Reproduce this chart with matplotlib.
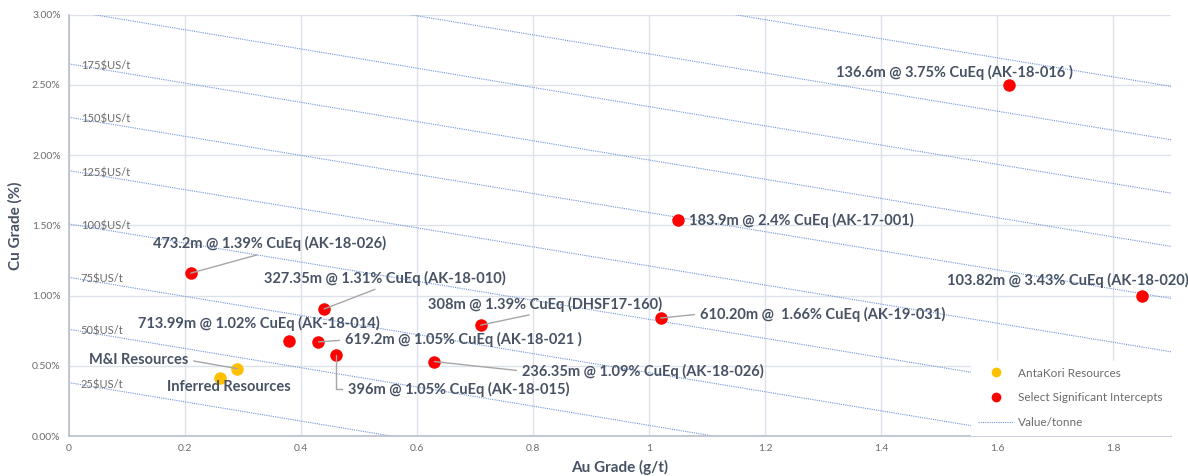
import numpy as np
import matplotlib
matplotlib.use("Agg")
import matplotlib.pyplot as plt
from matplotlib.ticker import FuncFormatter, MultipleLocator
from matplotlib.lines import Line2D

plt.rcParams["font.family"] = ["Lato", "DejaVu Sans"]

# Value/tonne lines: Cu grade (%) read at Au = 0 and at Au = 1.9 g/t
value_per_tonne = [25, 50, 75, 100, 125, 150, 175, 200, 225, 250]
line_cu_start = [0.38, 0.76, 1.13, 1.51, 1.89, 2.27, 2.65, 3.03, 3.40, 3.78]
line_cu_end = [-0.92, -0.54, -0.16, 0.22, 0.60, 0.98, 1.35, 1.73, 2.11, 2.49]
labelled_values = [25, 50, 75, 100, 125, 150, 175]

# AntaKori resources
res_names = ["M&I Resources", "Inferred Resources"]
res_au = [0.29, 0.26]
res_cu = [0.48, 0.41]

# Select significant intercepts
int_names = [
    "136.6m @ 3.75% CuEq (AK-18-016 )",
    "183.9m @ 2.4% CuEq (AK-17-001)",
    "103.82m @ 3.43% CuEq (AK-18-020)",
    "610.20m @  1.66% CuEq (AK-19-031)",
    "308m @ 1.39% CuEq (DHSF17-160)",
    "236.35m @ 1.09% CuEq (AK-18-026)",
    "396m @ 1.05% CuEq (AK-18-015)",
    "619.2m @ 1.05% CuEq (AK-18-021 )",
    "713.99m @ 1.02% CuEq (AK-18-014)",
    "327.35m @ 1.31% CuEq (AK-18-010)",
    "473.2m @ 1.39% CuEq (AK-18-026)",
]
int_au = [1.62, 1.05, 1.85, 1.02, 0.71, 0.63, 0.46, 0.43, 0.38, 0.44, 0.21]
int_cu = [2.50, 1.54, 1.00, 0.84, 0.79, 0.53, 0.58, 0.67, 0.68, 0.905, 1.16]

# label placement: (x, y, relpos for leader or None, connection style)
int_label_pos = [
    (1.322, 2.59, None, None),
    (1.069, 1.533, None, None),
    (1.514, 1.111, None, None),
    (1.088, 0.869, (0, 0.5), "arc3"),
    (0.619, 0.940, (0.5, 0.0), "arc3"),
    (0.781, 0.463, (0, 0.5), "arc3"),
    (0.481, 0.335, (0, 0.5), "angle,angleA=0,angleB=90,rad=0"),
    (0.476, 0.684, (0, 0.5), "arc3"),
    (0.119, 0.798, None, None),
    (0.336, 1.125, (0.5, 0.0), "arc3"),
    (0.145, 1.368, (0.5, 0.0), "arc3"),
]
res_label_pos = [
    (0.034, 0.541, (1, 0.5), "arc3"),
    (0.169, 0.349, None, None),
]

text_col = "#475264"
tick_col = "#6b6b6b"
line_col = "#7094d6"
grid_col = "#dde2ea"
red = "#ff0000"
yellow = "#ffc000"

fig = plt.figure(figsize=(11.88, 4.76), dpi=100)
ax = fig.add_axes([0.0581, 0.084, 0.9276, 0.885])

x_max = 1.9
for v, c0, c1 in zip(value_per_tonne, line_cu_start, line_cu_end):
    ax.plot([0, x_max], [c0, c1], color=line_col, lw=0.8,
            linestyle=(0, (1, 1)), zorder=2)
    if v in labelled_values:
        ly = c0 + (c1 - c0) * 0.02 / x_max
        ax.text(0.02, ly, f"{v}\\$US/t", fontsize=8, color=tick_col,
                ha="left", va="center", zorder=3)

ax.plot(res_au, res_cu, "o", color=yellow, ms=9, mec="none", zorder=5)
ax.plot(int_au, int_cu, "o", color=red, ms=9, mec="none", zorder=5)

def label_points(names, xs, ys, positions):
    for name, px, py, (tx, ty, rel, cs) in zip(names, xs, ys, positions):
        kw = dict(xy=(px, py), xytext=(tx, ty), textcoords="data",
                  fontsize=10.5, fontweight="bold", color=text_col,
                  ha="left", va="center", zorder=6)
        if rel is not None:
            kw["arrowprops"] = dict(arrowstyle="-", color="#a6a6a6", lw=1.0,
                                    relpos=rel, shrinkA=2, shrinkB=0,
                                    connectionstyle=cs)
        ax.annotate(name, **kw)

label_points(int_names, int_au, int_cu, int_label_pos)
label_points(res_names, res_au, res_cu, res_label_pos)

ax.set_xlim(0, x_max)
ax.set_ylim(0, 3.0)
ax.xaxis.set_major_locator(MultipleLocator(0.2))
ax.yaxis.set_major_locator(MultipleLocator(0.5))
ax.xaxis.set_major_formatter(FuncFormatter(lambda v, p: "0" if abs(v) < 1e-9 else ("1" if abs(v - 1) < 1e-9 else f"{v:.1f}")))
ax.yaxis.set_major_formatter(FuncFormatter(lambda v, p: f"{v:.2f}%"))
ax.grid(True, color=grid_col, lw=1.0, zorder=0)
ax.set_axisbelow(True)
for s in ["top", "right"]:
    ax.spines[s].set_visible(False)
for s in ["left", "bottom"]:
    ax.spines[s].set_color("#b8c0cc")
    ax.spines[s].set_linewidth(1.2)
ax.tick_params(length=0, labelsize=7.5, labelcolor=tick_col, pad=6)

ax.set_xlabel("Au Grade (g/t)", fontsize=11, fontweight="bold", color=text_col, labelpad=5)
ax.set_ylabel("Cu Grade (%)", fontsize=11, fontweight="bold", color=text_col, labelpad=7)

handles = [
    Line2D([], [], marker="o", color=yellow, ls="none", ms=7, mec="none"),
    Line2D([], [], marker="o", color=red, ls="none", ms=7, mec="none"),
    Line2D([], [], color=line_col, lw=0.8, linestyle=(0, (1, 1))),
]
leg = ax.legend(handles, ["AntaKori Resources", "Select Significant Intercepts", "Value/tonne"],
                loc="lower right", bbox_to_anchor=(1.0, 0.0), borderaxespad=0.1,
                fontsize=8.5, frameon=True, fancybox=False, framealpha=1,
                edgecolor="white", labelspacing=1.15, handlelength=3.0,
                handletextpad=0.4, borderpad=0.6)
for t in leg.get_texts():
    t.set_color(tick_col)
leg.set_zorder(7)

fig.savefig("out.png", dpi=100)
